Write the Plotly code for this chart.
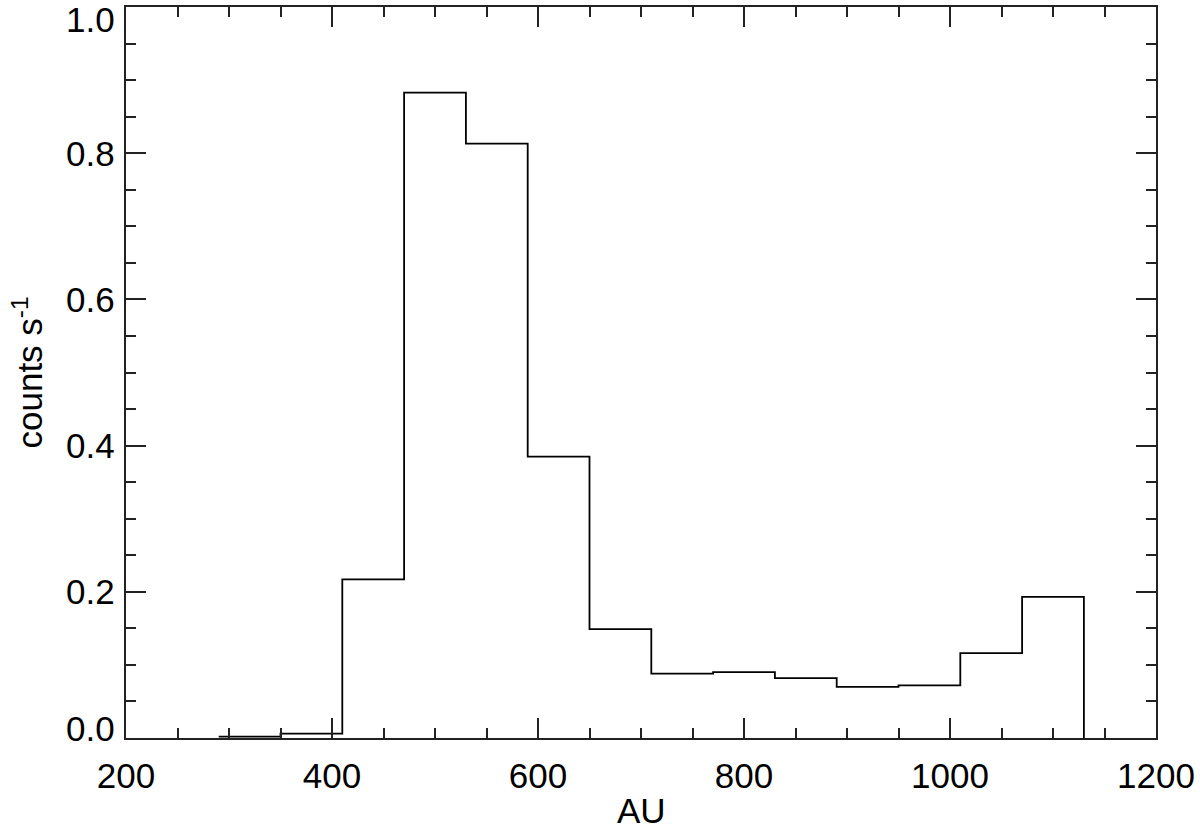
import plotly.graph_objects as go

# histogram of count rate vs distance (AU), 60 AU bins
bin_edges = [290, 350, 410, 470, 530, 590, 650, 710, 770, 830,
             890, 950, 1010, 1070, 1130]
count_rate = [0.002, 0.006, 0.217, 0.883, 0.813, 0.385, 0.149, 0.088,
              0.090, 0.082, 0.070, 0.072, 0.116, 0.193]

x_ticks = [200, 400, 600, 800, 1000, 1200]
y_ticks = [0.0, 0.2, 0.4, 0.6, 0.8, 1.0]

# step line: each level held across its bin, then drop to zero at the end
x_step = bin_edges
y_step = count_rate + [0.0]

fig = go.Figure()
fig.add_trace(go.Scatter(
    x=x_step, y=y_step,
    mode="lines",
    line=dict(color="black", width=1.8, shape="hv"),
    showlegend=False,
    hoverinfo="skip",
))

font = dict(family="Liberation Sans, Arial, Helvetica, sans-serif", size=35, color="black")

axis_common = dict(
    showline=True, linecolor="#222", linewidth=2,
    mirror="ticks", ticks="inside", ticklen=20, tickwidth=1.5, tickcolor="#222",
    showgrid=False, zeroline=False, automargin=False,
    tickfont=font,
)

# y tick labels as annotations so the end labels stay inside the frame
y_label_shift = {0.0: 10, 1.0: -12}
annotations = [
    dict(x=0, xref="paper", y=v, yref="y", text=f"{v:.1f}", showarrow=False,
         xanchor="right", yanchor="middle", xshift=-9, yshift=y_label_shift.get(v, 0),
         font=font)
    for v in y_ticks
]
annotations.append(dict(x=0.5, xref="paper", y=0, yref="paper", text="AU",
                        showarrow=False, xanchor="center", yanchor="middle",
                        yshift=-72, font=font))
annotations.append(dict(x=0, xref="paper", y=0.5, yref="paper", text="counts s<sup>-1</sup>",
                        showarrow=False, xanchor="center", yanchor="middle",
                        xshift=-99, textangle=-90, font=font))

fig.update_layout(
    width=1200, height=831,
    margin=dict(l=126, r=44, t=7, b=93),
    paper_bgcolor="white", plot_bgcolor="white",
    font=font,
    xaxis=dict(
        range=[200, 1200], tickvals=x_ticks, ticktext=[str(v) for v in x_ticks],
        minor=dict(dtick=50, ticks="inside", ticklen=10, tickwidth=1.5, tickcolor="#222"),
        ticklabelstandoff=6,
        **axis_common,
    ),
    yaxis=dict(
        range=[0, 1.0], tickvals=y_ticks, showticklabels=False,
        minor=dict(dtick=0.05, ticks="inside", ticklen=10, tickwidth=1.5, tickcolor="#222"),
        **axis_common,
    ),
    annotations=annotations,
)

# drop the default page margin so the figure sits at the window's corner
fig.write_html("out.html", config={"displayModeBar": False},
               post_script="document.body.style.margin='0';")
